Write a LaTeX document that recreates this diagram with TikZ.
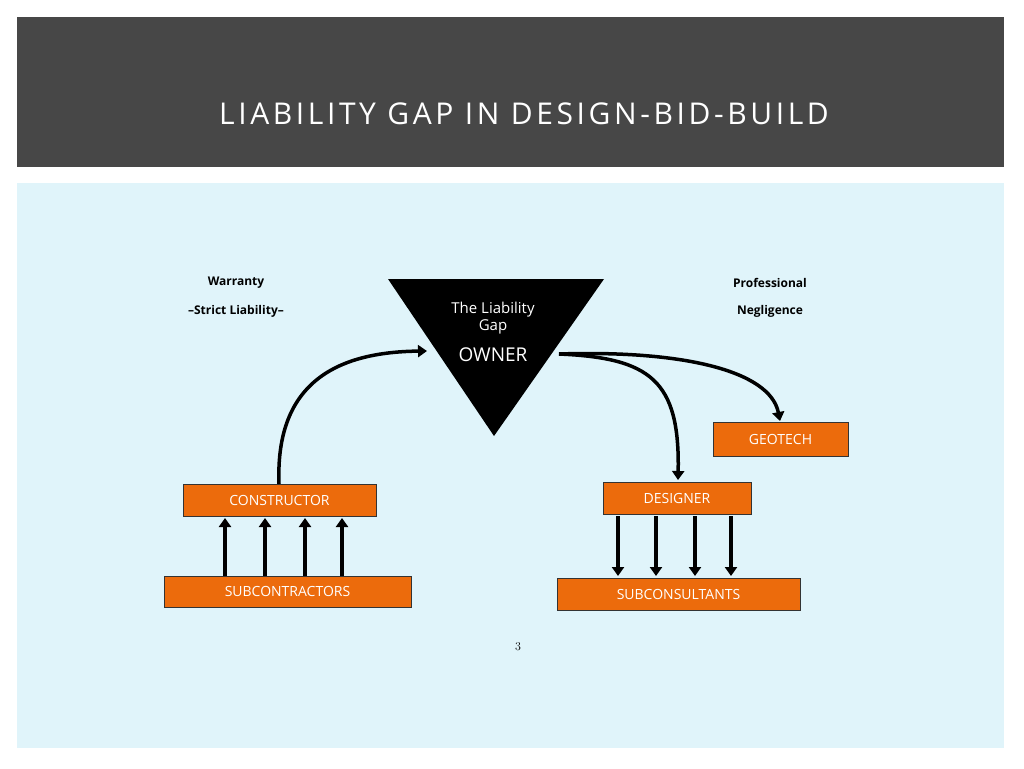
\documentclass[tikz,border=0pt]{standalone}
\usepackage{fontspec}
\setmainfont{Open Sans}
\usetikzlibrary{arrows.meta}
\definecolor{bar}{HTML}{474747}
\definecolor{body}{HTML}{E0F4FA}
\definecolor{org}{HTML}{EC6B0C}
\tikzset{box/.style={draw=black!80,line width=0.6pt,fill=org,text=white,font=\fontsize{14}{16}\selectfont,inner sep=0pt},
arr/.style={line width=3.5pt,-{Triangle[length=9pt,width=12pt]}},
lab/.style={font=\bfseries\fontsize{12}{14}\selectfont}}
\begin{document}
\begin{tikzpicture}[x=1pt,y=-1pt]
\useasboundingbox (0,0) rectangle (1024,768);
\fill[white] (0,0) rectangle (1024,768);
\fill[bar] (17,17) rectangle (1004,167);
\fill[body] (17,183) rectangle (1004,748);
\node[text=white,font=\fontsize{30}{34}\selectfont\addfontfeatures{LetterSpace=12}] (title) at (524,114) {LIABILITY GAP IN DESIGN-BID-BUILD};
\fill[black] (388,279) -- (604,279) -- (494,436) -- cycle;
\node[text=white,align=center,font=\fontsize{15}{17}\selectfont] (gap) at (493,318) {The Liability\\Gap};
\node[text=white,font=\fontsize{19}{21}\selectfont] (owner) at (493,355) {OWNER};
\node[box,minimum width=193pt,minimum height=32pt] (con) at (279.5,500) {CONSTRUCTOR};
\node[box,minimum width=247pt,minimum height=31pt] (sub) at (287.5,591.5) {SUBCONTRACTORS};
\node[box,minimum width=148pt,minimum height=32pt] (des) at (677,498) {DESIGNER};
\node[box,minimum width=243pt,minimum height=32pt] (scon) at (678.5,594) {SUBCONSULTANTS};
\node[box,minimum width=135pt,minimum height=34pt] (geo) at (780.5,439) {GEOTECH};
\node[lab] (w) at (236,283) {Warranty};
\node[lab] (s) at (236,311) {\textbf{--}Strict Liability\textbf{--}};
\node[lab] (p) at (770,283) {Professional};
\node[lab] (n) at (770,311) {Negligence};
\node[font=\rmfamily\fontsize{12}{14}\selectfont] (pg) at (518,647) {\fontspec{Latin Modern Roman}3};
\foreach \x in {225,265,305,342} \draw[arr] (\x,576) -- (\x,518);
\foreach \x in {618,656,695,731} \draw[arr] (\x,516) -- (\x,576);
\coordinate (a1) at (279,484);
\coordinate (a2) at (427,351);
\draw[arr] (a1) .. controls (275,380) and (340,352) .. (a2);
\coordinate (o1) at (559,354);
\draw[arr] (o1) .. controls (650,358) and (680,380) .. (678,480);
\draw[arr] (o1) .. controls (680,350) and (770,370) .. (780,421);
\end{tikzpicture}
\end{document}
